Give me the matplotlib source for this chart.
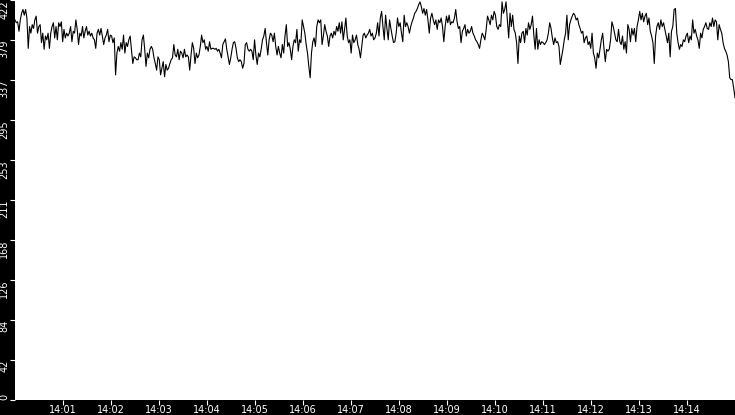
import matplotlib
matplotlib.use("Agg")
import matplotlib.pyplot as plt
import matplotlib.dates as mdates
import numpy as np
import pandas as pd

# values, 14:00 -> 14:15, split in three chunks
part_a = [401, 398, 399, 389, 401, 408, 412, 406, 412, 403, 371, 394, 387, 396, 392, 401,
          405, 387, 394, 396, 377, 387, 370, 384, 380, 387, 371, 387, 394, 398, 382, 394,
          380, 398, 394, 399, 378, 391, 382, 387, 384, 387, 394, 378, 389, 387, 401, 391,
          375, 387, 384, 394, 382, 389, 394, 385, 389, 384, 387, 382, 380, 371, 387, 391,
          385, 392, 384, 375, 382, 385, 391, 378, 385, 384, 377, 382, 343, 366, 373, 368,
          377, 370, 385, 366, 377, 373, 380, 384, 370, 355, 362, 361, 359, 359, 366, 362,
          380, 385, 370, 352, 366, 361, 370, 373, 370, 361, 355, 348, 362, 359, 343, 350,
          357, 341, 354, 348, 350, 355, 359, 361, 375, 364, 362, 370, 359, 368, 366, 361,
          370, 362, 364, 362, 348, 364, 377, 371, 355, 366, 361, 364, 373, 385, 377, 380,
          370, 373, 368, 378, 370, 371, 371, 370, 371, 368, 370, 366, 361, 375, 378, 381,
          370, 362, 354, 361, 370, 377, 378, 371, 361, 357, 359, 357, 350, 355, 375, 377,
          370, 368]
part_b = [370, 368, 359, 380, 364, 354, 366, 362, 370, 380, 384, 392, 377, 364, 380, 387,
          385, 378, 387, 373, 364, 373, 366, 361, 375, 366, 384, 396, 373, 377, 370, 359,
          373, 380, 377, 391, 368, 380, 377, 401, 394, 387, 375, 366, 352, 340, 366, 378,
          382, 373, 394, 401, 398, 401, 375, 384, 396, 389, 384, 373, 384, 387, 382, 389,
          385, 394, 389, 398, 387, 399, 380, 391, 403, 384, 377, 380, 366, 385, 377, 380,
          385, 375, 370, 361, 373, 385, 387, 382, 385, 387, 391, 384, 387, 380, 382, 387,
          398, 384, 403, 410, 394, 380, 406, 392, 380, 401, 392, 384, 377, 378, 387, 403,
          394, 398, 387, 378, 406, 394, 398, 394, 387, 394, 399, 403, 408, 410, 413, 417,
          420, 415, 408, 413, 406, 412, 401, 387, 403, 408, 401, 396, 401, 391, 401, 398,
          403, 394, 378, 394, 405, 398, 406, 396, 399, 398, 403, 412, 399, 392, 394, 377,
          389, 392, 396, 384, 391, 387, 389, 394, 387, 384, 380, 378, 375, 371, 380, 387,
          384, 380, 391, 405, 401, 396]
part_c = [406, 401, 410, 406, 394, 391, 396, 394, 420, 408, 412, 420, 401, 382, 408, 394,
          406, 391, 387, 377, 355, 384, 377, 387, 389, 377, 392, 385, 398, 391, 396, 405,
          385, 370, 392, 370, 380, 375, 378, 377, 375, 377, 380, 387, 398, 392, 382, 375,
          382, 377, 378, 373, 354, 362, 370, 380, 387, 406, 380, 396, 401, 405, 408, 406,
          401, 403, 396, 392, 387, 389, 377, 382, 384, 375, 378, 371, 387, 366, 361, 350,
          366, 361, 370, 380, 387, 371, 357, 370, 368, 370, 380, 399, 394, 387, 380, 378,
          391, 378, 375, 384, 370, 378, 366, 396, 391, 378, 392, 385, 392, 378, 394, 401,
          410, 401, 408, 399, 405, 408, 396, 403, 389, 384, 377, 355, 384, 394, 398, 391,
          401, 394, 398, 391, 384, 377, 387, 362, 389, 394, 412, 413, 387, 377, 370, 375,
          373, 380, 378, 384, 387, 377, 384, 380, 401, 387, 391, 384, 380, 371, 387, 382,
          391, 394, 398, 392, 391, 398, 394, 403, 394, 401, 399, 380, 396, 391, 387, 377,
          371, 368, 364, 357, 340, 338, 338, 329, 319]

y_ticks = [0, 42.2, 84.4, 126.6, 168.8, 211, 253.2, 295.4, 337.6, 379.8, 422]
y_labels = ["0", "42", "84", "126", "168", "211", "253", "295", "337", "379", "422"]

t_start = pd.Timestamp("2024-01-01 14:00:00")
t_end = pd.Timestamp("2024-01-01 14:15:00")


def main():
    values = np.array(part_a + part_b + part_c, dtype=float)
    times = pd.date_range(t_start, t_end, periods=len(values))

    fig = plt.figure(figsize=(7.35, 4.15), dpi=100, facecolor="black")
    ax = fig.add_axes([15 / 735, 15 / 415, 720 / 735, 400 / 415])
    ax.set_facecolor("white")
    ax.plot(times, values, color="black", lw=0.8)

    ax.set_xlim(t_start, t_end)
    ax.set_ylim(0, 422)
    for s in ax.spines.values():
        s.set_visible(False)

    ax.xaxis.set_major_locator(mdates.MinuteLocator(byminute=range(1, 15)))
    ax.xaxis.set_major_formatter(mdates.DateFormatter("%H:%M"))
    ax.set_yticks(y_ticks)
    ax.set_yticklabels(y_labels, rotation=90, va="top")
    ax.get_yticklabels()[0].set_va("bottom")

    ax.tick_params(axis="both", colors="white", labelsize=7, length=3.6, width=0.8,
                   direction="out")
    ax.tick_params(axis="y", pad=0.5)
    # baseline-anchored labels so the text sits in the 15px strip
    ax.tick_params(axis="x", pad=6.0)
    for lab in ax.get_xticklabels():
        lab.set_va("baseline")

    fig.savefig("out.png", dpi=100, facecolor="black")
    plt.close(fig)


if __name__ == "__main__":
    main()
